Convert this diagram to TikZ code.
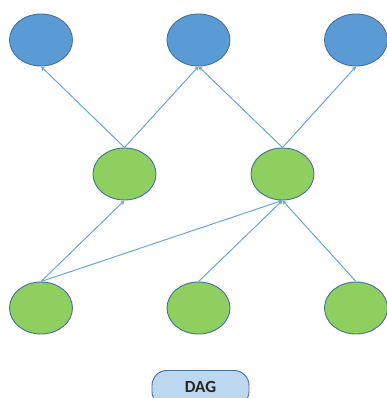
\documentclass[tikz,border=0pt]{standalone}
\usepackage{fontspec}
\setmainfont{Carlito}
\usetikzlibrary{arrows.meta,shapes.geometric}
\definecolor{topblue}{HTML}{5B9BD5}
\definecolor{edgeblue}{HTML}{41719C}
\definecolor{leafgreen}{HTML}{8FCF60}
\definecolor{arrowblue}{HTML}{6AA6DA}
\definecolor{boxfill}{HTML}{BDD7EE}
\begin{document}
\begin{tikzpicture}[x=1pt,y=-1pt,
  bluenode/.style={ellipse,draw=edgeblue,fill=topblue,line width=0.9pt,minimum width=63pt,minimum height=52pt,inner sep=0pt},
  greennode/.style={ellipse,draw=edgeblue,fill=leafgreen,line width=0.9pt,minimum width=63pt,minimum height=52pt,inner sep=0pt},
  conn/.style={draw=arrowblue,line width=1pt,-{Stealth[length=4.5pt,width=4.5pt]}}]
\useasboundingbox (0,0) rectangle (387,398);
\clip (0,0) rectangle (387,398);
\node[bluenode] (t1) at (41,40) {};
\node[bluenode] (t2) at (198.5,40) {};
\node[bluenode] (t3) at (356,40) {};
\node[greennode] (m1) at (124.5,174) {};
\node[greennode] (m2) at (282.5,174) {};
\node[greennode] (b1) at (41,308) {};
\node[greennode] (b2) at (198.5,308) {};
\node[greennode] (b3) at (356,308) {};
\draw[conn] (m1.north) -- (t1.south);
\draw[conn] (m1.north) -- (t2.south);
\draw[conn] (m2.north) -- (t2.south);
\draw[conn] (m2.north) -- (t3.south);
\draw[conn] (b1.north) -- (m1.south);
\draw[conn] (b1.north) -- (m2.south);
\draw[conn] (b2.north) -- (m2.south);
\draw[conn] (b3.north) -- (m2.south);
\node[draw=edgeblue,fill=boxfill,line width=0.9pt,rounded corners=15pt,minimum width=97pt,minimum height=36pt,inner sep=0pt,anchor=north,font=\bfseries\fontsize{17}{20}\selectfont,text=black!85] (dag) at (200.5,370) {\raisebox{4pt}{DAG}};
\end{tikzpicture}
\end{document}
